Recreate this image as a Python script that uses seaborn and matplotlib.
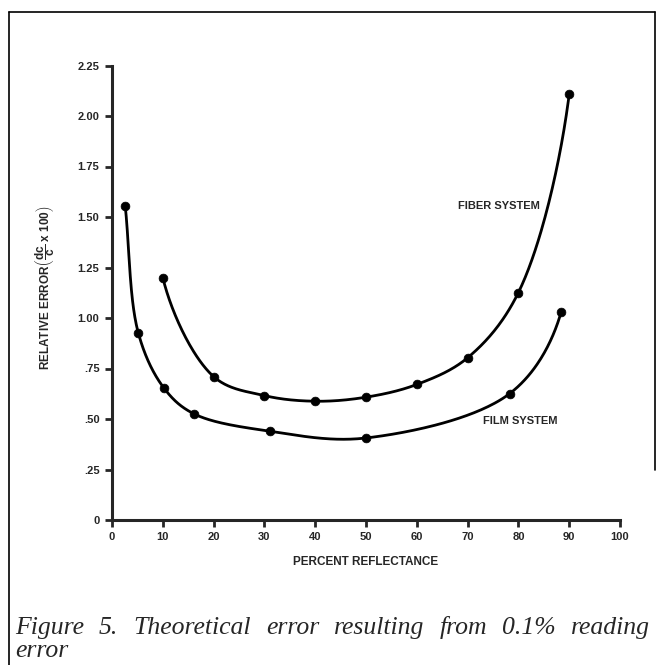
import numpy as np
import matplotlib
matplotlib.use("Agg")
import matplotlib.pyplot as plt
from matplotlib.lines import Line2D
import seaborn as sns

# ---- data ----
fiber_x = [10, 20, 30, 40, 50, 60, 70, 80, 90]
fiber_y = [1.20, 0.71, 0.616, 0.588, 0.608, 0.671, 0.803, 1.126, 2.108]
film_x = [2.6, 5.2, 10.2, 16.1, 31.2, 50.0, 78.3, 88.4]
film_y = [1.556, 0.924, 0.654, 0.526, 0.439, 0.406, 0.626, 1.028]
x_ticks = [0, 10, 20, 30, 40, 50, 60, 70, 80, 90, 100]
y_ticks = [0, 0.25, 0.5, 0.75, 1.0, 1.25, 1.5, 1.75, 2.0, 2.25]
y_tick_labels = ["0", ".25", ".50", ".75", "1.00", "1.25", "1.50", "1.75", "2.00", "2.25"]
caption_line1 = ["Figure", "5.", "Theoretical", "error", "resulting", "from", "0.1%", "reading"]
caption_line2 = "error"


def smooth(xs, ys, n=60, alpha=0.5, vertical_ends=(True, True)):
    """Centripetal Catmull-Rom curve through the data points (for the drawn line only)."""
    sx, sy = 5.08, 202.0  # approximate pixel scaling so the curve is isotropic
    P = np.column_stack([np.asarray(xs) * sx, np.asarray(ys) * sy])
    d0 = np.linalg.norm(P[1] - P[0])
    d1 = np.linalg.norm(P[-1] - P[-2])
    start = P[0] + np.array([0, d0]) if vertical_ends[0] else 2 * P[0] - P[1]
    end = P[-1] + np.array([0, d1]) if vertical_ends[1] else 2 * P[-1] - P[-2]
    P = np.vstack([start, P, end])
    out = []
    for i in range(1, len(P) - 2):
        p0, p1, p2, p3 = P[i - 1], P[i], P[i + 1], P[i + 2]
        t0 = 0.0
        t1 = t0 + np.linalg.norm(p1 - p0) ** alpha
        t2 = t1 + np.linalg.norm(p2 - p1) ** alpha
        t3 = t2 + np.linalg.norm(p3 - p2) ** alpha
        t = np.linspace(t1, t2, n)[:, None]
        a1 = (t1 - t) / (t1 - t0) * p0 + (t - t0) / (t1 - t0) * p1
        a2 = (t2 - t) / (t2 - t1) * p1 + (t - t1) / (t2 - t1) * p2
        a3 = (t3 - t) / (t3 - t2) * p2 + (t - t2) / (t3 - t2) * p3
        b1 = (t2 - t) / (t2 - t0) * a1 + (t - t0) / (t2 - t0) * a2
        b2 = (t3 - t) / (t3 - t1) * a2 + (t - t1) / (t3 - t1) * a3
        c = (t2 - t) / (t2 - t1) * b1 + (t - t1) / (t2 - t1) * b2
        out.append(c if i == 1 else c[1:])
    out = np.vstack(out)
    return out[:, 0] / sx, out[:, 1] / sy


sns.set_style("ticks")
plt.rcParams["font.family"] = ["Liberation Sans", "DejaVu Sans"]
plt.rcParams["mathtext.fontset"] = "custom"
plt.rcParams["mathtext.rm"] = "Liberation Sans"
plt.rcParams["mathtext.bf"] = "Liberation Sans:bold"
plt.rcParams["mathtext.it"] = "Liberation Sans:italic"

W, H = 661, 665
fig = plt.figure(figsize=(W / 100, H / 100), dpi=100)
x0, x1, ytop, ybot = 112, 620, 65.5, 520
ax = fig.add_axes([x0 / W, (H - ybot) / H, (x1 - x0) / W, (ybot - ytop) / H])

for xs, ys, ends in [(fiber_x, fiber_y, (True, True)), (film_x, film_y, (False, True))]:
    cx, cy = smooth(xs, ys, vertical_ends=ends)
    sns.lineplot(x=cx, y=cy, sort=False, estimator=None, color="black", lw=2.0, ax=ax)
    sns.scatterplot(x=xs, y=ys, color="black", s=40, edgecolor="black", linewidth=0.5,
                    ax=ax, zorder=5, clip_on=False)

ax.set_xlim(0, 100)
ax.set_ylim(0, 2.25)
ax.set_xticks(x_ticks)
ax.set_xticklabels([str(v) for v in x_ticks])
ax.set_yticks(y_ticks)
ax.set_yticklabels(y_tick_labels)
for s in ["top", "right"]:
    ax.spines[s].set_visible(False)
for s in ["left", "bottom"]:
    ax.spines[s].set_linewidth(2.2)
ax.tick_params(axis="both", direction="out", length=5, width=2.0, labelsize=8, pad=4)
for lab in ax.get_xticklabels() + ax.get_yticklabels():
    lab.set_fontweight("bold")

ax.text(68.1, 1.556, "FIBER SYSTEM", fontsize=8, fontweight="bold", ha="left", va="center")
ax.text(73.0, 0.488, "FILM SYSTEM", fontsize=8, fontweight="bold", ha="left", va="center")

fig.text((x0 + x1) / 2 / W, 1 - 562 / H, "PERCENT REFLECTANCE", fontsize=8.5,
         fontweight="bold", ha="center", va="center")
fig.text(45 / W, 1 - 288 / H,
         r"RELATIVE ERROR$\left(\dfrac{\mathbf{dc}}{\mathbf{c}}\mathbf{\ x\ 100}\right)$",
         fontsize=8.5, fontweight="bold", rotation=90, ha="center", va="center")

# frame lines around the figure
fig.add_artist(Line2D([9 / W, 9 / W], [1 - 12 / H, 0], transform=fig.transFigure,
                      color="black", lw=1.2))
fig.add_artist(Line2D([9 / W, 655 / W], [1 - 12 / H, 1 - 12 / H], transform=fig.transFigure,
                      color="black", lw=1.2))
fig.add_artist(Line2D([655 / W, 655 / W], [1 - 12 / H, 1 - 470 / H], transform=fig.transFigure,
                      color="black", lw=1.2))

# justified caption
cap_font = dict(family=["Liberation Serif", "DejaVu Serif"], style="italic", fontsize=18.5)
renderer = fig.canvas.get_renderer()
texts = [fig.text(0, 1 - 634 / H, w, va="baseline", ha="left", **cap_font) for w in caption_line1]
widths = [t.get_window_extent(renderer).width for t in texts]
left, right = 15, 650
gap = (right - left - sum(widths)) / (len(widths) - 1)
xpos = left
for t, w in zip(texts, widths):
    t.set_x(xpos / W)
    xpos += w + gap
fig.text(left / W, 1 - 657 / H, caption_line2, va="baseline", ha="left", **cap_font)

fig.savefig("out.png", dpi=100)
